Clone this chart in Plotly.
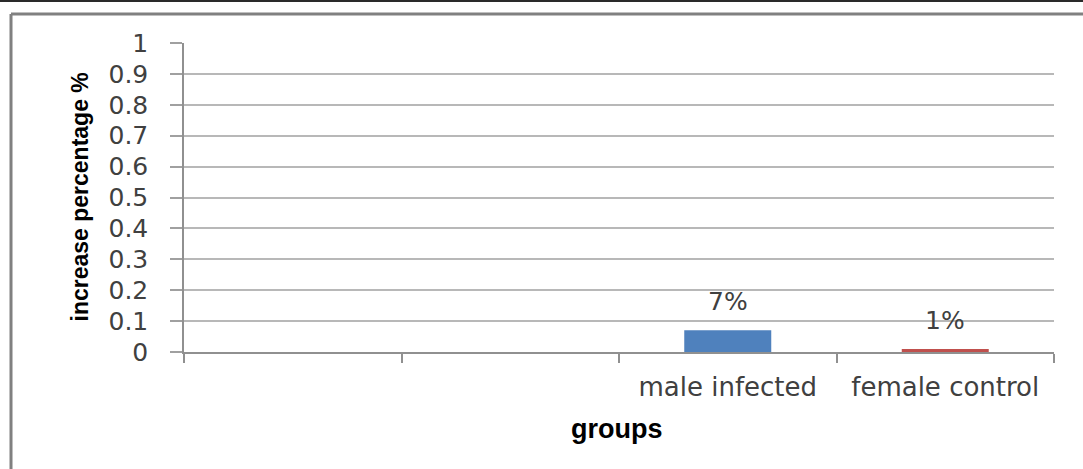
import plotly.graph_objects as go

# ---- data ----
categories = [" ", "  ", "male infected", "female control"]
values = [None, None, 0.07, 0.01]
bar_colors = ["#4F81BD", "#4F81BD", "#4F81BD", "#C0504D"]
value_labels = ["", "", "7%", "1%"]
y_tickvals = [0, 0.1, 0.2, 0.3, 0.4, 0.5, 0.6, 0.7, 0.8, 0.9, 1]
y_ticktext = ["0", "0.1", "0.2", "0.3", "0.4", "0.5", "0.6", "0.7", "0.8", "0.9", "1"]

W, H = 1083, 469
L, R, T, B = 184, 29, 43, 117
pw, ph = W - L - R, H - T - B

def px_x(p):
    return (p - L) / pw

def px_y(p):
    return (H - B - p) / ph

fig = go.Figure()
fig.add_trace(go.Bar(
    x=categories, y=values, width=0.4,
    marker=dict(color=bar_colors, line=dict(width=0)),
    hoverinfo="skip",
))

annotations = []
for c, v, t in zip(categories, values, value_labels):
    if v is None or not t:
        continue
    annotations.append(dict(
        x=c, y=v, xref="x", yref="y", text=t, showarrow=False,
        yanchor="bottom", yshift=12,
        font=dict(family="DejaVu Sans", size=25, color="#404040"),
    ))

annotations.append(dict(
    x=px_x(79), y=0.5, xref="paper", yref="paper",
    text="<b>increase percentage %</b>", showarrow=False, textangle=-90,
    xanchor="center", yanchor="middle",
    font=dict(family="Liberation Sans, Arial, sans-serif", size=23, color="#000000"),
))
annotations.append(dict(
    x=px_x(617), y=px_y(429), xref="paper", yref="paper",
    text="<b>groups</b>", showarrow=False,
    xanchor="center", yanchor="middle",
    font=dict(family="Liberation Sans, Arial, sans-serif", size=27, color="#000000"),
))

shapes = [
    # outer frame (left + top)
    dict(type="line", xref="paper", yref="paper",
         x0=px_x(11), x1=px_x(11), y0=px_y(H + 20), y1=px_y(14),
         line=dict(color="#808080", width=3)),
    dict(type="line", xref="paper", yref="paper",
         x0=px_x(11), x1=px_x(W + 20), y0=px_y(14), y1=px_y(14),
         line=dict(color="#808080", width=3)),
    # dark top line
    dict(type="line", xref="paper", yref="paper",
         x0=px_x(-10), x1=px_x(W + 20), y0=px_y(1), y1=px_y(1),
         line=dict(color="#2a2a2a", width=2)),
]

fig.update_layout(
    width=W, height=H,
    margin=dict(l=L, r=R, t=T, b=B, pad=0),
    paper_bgcolor="white", plot_bgcolor="white",
    showlegend=False, bargap=0.6,
    annotations=annotations, shapes=shapes,
    xaxis=dict(
        type="category", categoryorder="array", categoryarray=categories,
        tickson="boundaries", ticks="outside", ticklen=9, tickcolor="#909090", tickwidth=1.5,
        showline=True, linecolor="#909090", linewidth=1.5,
        showgrid=False, zeroline=False,
        tickfont=dict(family="DejaVu Sans", size=26, color="#404040"),
        ticklabelstandoff=11,
    ),
    yaxis=dict(
        range=[0, 1], tickvals=y_tickvals, ticktext=y_ticktext,
        ticks="outside", ticklen=12, tickcolor="#A0A0A0", tickwidth=1.5,
        showline=True, linecolor="#909090", linewidth=1.5,
        showgrid=True, gridcolor="#B8B8B8", gridwidth=2,
        zeroline=False,
        tickfont=dict(family="DejaVu Sans", size=25, color="#404040"),
        ticklabelstandoff=17,
    ),
)

fig.write_html("out.html")
